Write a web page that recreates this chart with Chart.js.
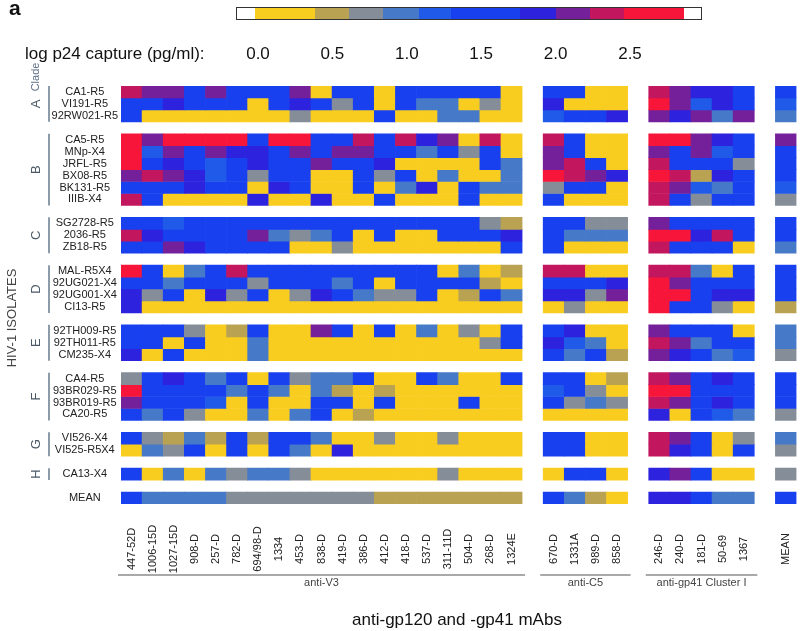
<!DOCTYPE html>
<html>
<head>
<meta charset="utf-8">
<title>log p24 capture heatmap</title>
<script src="https://cdn.jsdelivr.net/npm/chart.js@4.4.1/dist/chart.umd.min.js"></script>
<style>
  html, body { margin: 0; padding: 0; background: #fff; }
  body { font-family: "Liberation Sans", Arial, Helvetica, sans-serif; color: #111; }
  #page { position: relative; width: 800px; height: 631px; overflow: hidden; }
  #heat { position: absolute; left: 0; top: 0; }
  #panel { position: absolute; left: 9px; top: -3px; font-size: 21px; line-height: 21px; font-weight: bold; }
  .seg { position: absolute; top: 8px; height: 11px; }
  #scaleFrame { position: absolute; top: 7px; height: 11px; border: 1px solid #333; }
  .scaleTick { position: absolute; top: 44px; font-size: 17px; line-height: 20px; transform: translateX(-50%); white-space: nowrap; }
  #scaleTitle { position: absolute; left: 25px; top: 44px; font-size: 17px; line-height: 20px; white-space: nowrap; }
</style>
</head>
<body>
<div id="page">
  <canvas id="heat" width="800" height="631"></canvas>
  <div id="panel">a</div>
  <div id="scaleTitle">log p24 capture (pg/ml):</div>
  <div id="scaleBar"></div>
</div>
<script>
// mAbs (columns)
const mAbsV3 = ['447-52D', '1006-15D', '1027-15D', '908-D', '257-D', '782-D', '694/98-D', '1334', '453-D',
  '838-D', '419-D', '386-D', '412-D', '418-D', '537-D', '311-11D', '504-D', '268-D', '1324E'];
const mAbsC5 = ['670-D', '1331A', '989-D', '858-D'];
const mAbsGp41 = ['246-D', '240-D', '181-D', '50-69', '1367'];
const mAbsMean = ['MEAN'];

// isolates (rows) per clade
const isolatesA = ['CA1-R5', 'VI191-R5', '92RW021-R5'];
const isolatesB = ['CA5-R5', 'MNp-X4', 'JRFL-R5', 'BX08-R5', 'BK131-R5', 'IIIB-X4'];
const isolatesC = ['SG2728-R5', '2036-R5', 'ZB18-R5'];
const isolatesD = ['MAL-R5X4', '92UG021-X4', '92UG001-X4', 'CI13-R5'];
const isolatesE = ['92TH009-R5', '92TH011-R5', 'CM235-X4'];
const isolatesF = ['CA4-R5', '93BR029-R5', '93BR019-R5', 'CA20-R5'];
const isolatesG = ['VI526-X4', 'VI525-R5X4'];
const isolatesH = ['CA13-X4'];
const isolatesMean = ['MEAN'];

// log p24 capture (pg/ml), one row per isolate: 19 anti-V3 | 4 anti-C5 | 5 anti-gp41 | MEAN
const valuesA = [
  [2.35,2.1,2.1,1.5,2.1,1.5,1.5,1.5,2.1,0.2,1.5,1.5,0.2,1.5,1.5,1.5,1.5,1.5,0.2, 1.5,1.5,0.2,0.2, 2.35,2.1,1.9,1.9,1.5, 1.5],
  [1.5,1.5,1.9,1.5,1.5,1.5,0.2,1.5,1.9,1.5,0.7,1.5,0.2,1.5,0.95,0.95,0.2,0.7,0.2, 1.9,0.2,0.2,0.2, 2.6,2.1,1.2,1.9,1.5, 1.2],
  [1.5,0.2,0.2,0.2,0.2,0.2,0.2,0.2,0.7,0.2,0.2,0.2,1.5,0.2,0.2,0.95,0.95,0.2,0.2, 1.2,1.5,1.5,1.9, 2.1,1.9,2.1,0.95,2.1, 0.95]
];
const valuesB = [
  [2.6,2.1,2.6,2.6,2.6,2.6,1.5,2.6,2.6,1.5,1.5,2.35,1.5,2.35,1.9,2.1,0.2,2.35,0.2, 2.35,1.5,0.2,0.2, 2.6,2.6,2.1,1.9,1.5, 2.1],
  [2.6,1.2,2.1,1.5,2.1,1.9,1.9,1.5,2.1,1.5,2.1,2.1,1.5,1.5,0.95,1.5,0.7,1.5,0.2, 2.1,1.5,0.2,0.2, 2.1,1.5,2.1,1.2,1.5, 1.5],
  [2.6,1.5,1.9,1.5,1.2,1.5,1.9,1.5,1.5,2.1,1.5,1.5,1.9,0.2,0.2,0.2,0.2,1.5,0.95, 2.1,2.35,1.5,0.2, 2.35,1.5,1.5,1.5,0.7, 1.5],
  [2.1,2.35,2.1,1.9,1.2,1.5,0.7,1.5,1.5,0.2,0.2,1.5,0.7,1.5,0.2,0.95,0.2,0.2,0.95, 2.6,2.35,2.1,1.9, 2.6,2.35,0.5,1.9,1.5, 1.5],
  [1.5,1.5,1.5,1.9,1.5,1.5,0.2,1.9,1.5,0.2,0.2,1.5,0.2,0.95,1.9,0.2,1.5,0.95,0.95, 0.7,1.5,1.5,0.2, 2.35,2.1,1.2,0.95,1.5, 1.2],
  [2.35,1.5,0.2,0.2,0.2,0.2,1.9,0.2,0.2,1.9,0.2,0.2,1.5,0.2,0.2,0.2,1.5,0.2,0.2, 1.5,0.2,0.2,0.2, 2.35,1.5,0.7,1.5,1.5, 0.7]
];
const valuesC = [
  [1.5,1.5,1.2,1.5,1.5,1.5,1.5,1.5,1.5,1.5,1.5,1.5,1.5,1.5,1.5,1.5,1.5,0.7,0.5, 1.5,1.5,0.7,0.7, 2.1,1.5,1.5,1.5,1.5, 1.5],
  [2.35,1.9,1.5,1.5,1.5,1.5,2.1,0.95,0.7,0.95,1.5,0.2,1.5,0.2,0.2,1.5,1.5,1.5,1.9, 1.5,0.95,0.95,0.95, 2.6,2.6,1.9,2.35,1.5, 1.5],
  [1.5,1.5,2.1,1.9,1.5,1.5,1.5,1.5,0.2,0.2,0.7,0.2,0.2,0.2,0.2,0.2,0.2,0.2,1.5, 1.5,0.2,0.2,0.2, 2.35,1.5,1.5,1.5,0.2, 0.95]
];
const valuesD = [
  [2.6,1.5,0.2,0.95,1.5,2.35,1.5,1.5,1.5,1.5,1.5,1.5,1.5,1.5,1.5,0.2,0.95,0.2,0.5, 2.35,2.35,0.2,0.2, 2.35,2.35,0.95,0.2,1.5, 1.5],
  [1.5,1.5,0.95,1.5,1.5,1.5,0.7,1.5,1.5,1.5,0.95,1.5,0.2,1.5,1.5,1.5,1.5,0.5,0.2, 1.5,1.5,1.5,1.9, 2.6,2.1,1.5,1.5,1.5, 1.5],
  [1.9,0.7,1.5,0.2,1.9,0.7,1.5,0.2,0.7,1.9,1.5,0.95,0.7,0.7,1.5,0.2,0.5,1.5,0.95, 1.9,1.9,0.7,2.1, 2.6,2.6,1.5,1.9,1.9, 1.5],
  [1.9,0.2,0.2,0.2,0.2,0.2,0.2,0.2,0.2,0.2,0.2,0.2,0.2,0.2,0.2,0.2,0.2,0.2,0.2, 0.2,0.7,0.2,0.2, 2.6,1.5,1.5,0.7,0.2, 0.5]
];
const valuesE = [
  [1.5,1.5,1.5,0.7,0.2,0.5,1.5,0.2,0.2,2.1,1.5,0.2,1.5,0.2,0.95,0.2,0.7,0.2,1.5, 1.5,1.9,0.2,0.2, 2.1,1.5,1.5,1.5,0.2, 0.95],
  [1.5,1.5,0.2,1.5,0.2,0.2,0.95,0.2,0.2,0.2,0.2,0.2,0.2,0.2,0.2,0.2,0.2,0.7,1.5, 1.9,1.2,0.95,0.2, 2.35,2.1,0.95,1.5,1.5, 0.95],
  [1.9,0.2,1.5,0.2,0.2,0.2,0.95,0.2,0.2,0.2,0.2,0.2,0.2,0.2,0.2,0.2,0.2,0.2,0.2, 1.5,0.95,1.5,0.5, 2.1,1.9,1.5,0.95,1.2, 0.7]
];
const valuesF = [
  [0.7,1.5,1.9,1.5,0.95,1.5,0.2,1.5,0.7,0.95,0.95,1.5,0.2,0.2,1.5,0.95,0.2,0.2,1.5, 1.5,1.5,0.2,0.5, 2.35,2.1,1.5,1.9,1.5, 1.5],
  [2.6,1.5,1.5,1.5,1.5,0.95,1.5,0.95,0.2,0.95,0.5,0.2,0.5,0.2,0.2,0.2,0.2,0.2,0.2, 1.2,1.5,0.7,0.2, 2.6,2.6,1.5,1.5,1.5, 1.5],
  [2.1,1.5,1.5,1.5,1.2,0.2,1.5,0.2,0.2,1.5,1.5,0.2,1.5,0.2,0.2,0.2,1.5,0.2,0.2, 1.5,0.7,0.95,0.7, 2.35,2.1,1.5,1.9,1.5, 1.5],
  [1.5,0.95,1.5,0.7,0.2,0.2,0.95,0.2,0.95,1.5,0.2,0.5,0.2,0.2,0.2,0.2,0.2,0.2,0.2, 0.2,0.2,0.2,0.2, 1.9,0.2,1.5,1.2,0.95, 0.7]
];
const valuesG = [
  [1.5,0.7,0.5,0.95,0.5,1.5,0.5,1.5,1.5,0.95,0.2,0.2,0.7,0.2,0.2,0.7,0.2,0.2,0.2, 1.5,1.5,0.2,0.2, 2.35,2.1,1.5,0.2,0.7, 0.95],
  [0.2,0.95,0.7,1.5,0.2,1.5,0.2,1.5,0.95,0.2,1.9,0.2,0.2,0.2,0.2,0.2,0.2,0.2,0.2, 1.5,1.5,0.2,0.2, 2.35,1.9,1.5,0.2,1.5, 0.7]
];
const valuesH = [
  [1.5,0.2,0.95,0.2,0.95,0.7,0.95,0.95,0.7,0.2,0.2,0.2,0.2,0.2,0.2,0.7,0.2,0.2,0.2, 0.2,1.5,1.5,0.2, 1.9,2.1,1.5,0.2,0.2, 0.7]
];
const valuesMean = [
  [1.5,0.95,0.95,0.95,0.95,0.7,0.7,0.7,0.7,0.7,0.7,0.7,0.5,0.5,0.5,0.5,0.5,0.5,0.5, 1.5,0.95,0.5,0.2, 1.9,1.9,1.5,0.95,0.95, 1.5]
];

// colour key: bin edges in log p24 units, and one colour per bin
const binEdges = [0.38, 0.61, 0.84, 1.08, 1.30, 1.76, 2.0, 2.23, 2.46];
const binColors = ['#f9cd1f', '#b9a352', '#858e98', '#4679c8', '#1f5ae8', '#1840ef', '#2d22de', '#74209a', '#c2165e', '#f7163a'];
const keyRange = [-0.14, -0.02, 2.86, 2.98];   // white ends of the key
const keyTicks = [0.0, 0.5, 1.0, 1.5, 2.0, 2.5];

const colorFor = v => {
  let i = binEdges.findIndex(e => v < e);
  return binColors[i < 0 ? binEdges.length : i];
};

// colour key above the chart
(function drawKey() {
  const bar = document.getElementById('scaleBar');
  const px = v => 258 + v * 148.8;
  const stops = [keyRange[0], keyRange[1], ...binEdges, keyRange[2], keyRange[3]];
  const fills = ['#fff', ...binColors, '#fff'];
  fills.forEach((c, i) => {
    const d = document.createElement('div');
    d.className = 'seg';
    d.style.left = px(stops[i]) + 'px';
    d.style.width = (px(stops[i + 1]) - px(stops[i]) + 0.6) + 'px';
    d.style.background = c;
    bar.appendChild(d);
  });
  const frame = document.createElement('div');
  frame.id = 'scaleFrame';
  frame.style.left = (px(stops[0]) - 1) + 'px';
  frame.style.width = (px(stops[stops.length - 1]) - px(stops[0])) + 'px';
  bar.appendChild(frame);
  keyTicks.forEach(t => {
    const s = document.createElement('div');
    s.className = 'scaleTick';
    s.style.left = px(t) + 'px';
    s.textContent = t.toFixed(1);
    bar.appendChild(s);
  });
})();

// columns: mAb groups separated by one empty slot
const colGroups = [
  { label: 'anti-V3', mAbs: mAbsV3 },
  { label: 'anti-C5', mAbs: mAbsC5 },
  { label: 'anti-gp41 Cluster I', mAbs: mAbsGp41 },
  { label: '', mAbs: mAbsMean }
];
const columns = [];
const colSource = [];   // category index -> value index (null = gap)
colGroups.forEach((g, gi) => {
  if (gi > 0) { columns.push(''); colSource.push(null); }
  g.from = columns.length;
  g.mAbs.forEach(m => { colSource.push(colSource.filter(c => c !== null).length); columns.push(m); });
  g.to = columns.length - 1;
});

// rows: clades separated by one empty row
const rowGroups = [
  { clade: 'A', names: isolatesA, values: valuesA },
  { clade: 'B', names: isolatesB, values: valuesB },
  { clade: 'C', names: isolatesC, values: valuesC },
  { clade: 'D', names: isolatesD, values: valuesD },
  { clade: 'E', names: isolatesE, values: valuesE },
  { clade: 'F', names: isolatesF, values: valuesF },
  { clade: 'G', names: isolatesG, values: valuesG },
  { clade: 'H', names: isolatesH, values: valuesH },
  { clade: '', names: isolatesMean, values: valuesMean }
];
const rowList = [];
let pos = 0;
rowGroups.forEach((g, gi) => {
  if (gi > 0) pos += 1;
  g.start = pos;
  g.names.forEach((n, i) => { rowList.push({ name: n, pos: pos, values: g.values[i] }); pos += 1; });
  g.end = pos;
});
const totalRows = pos;

const datasets = rowList.map(r => ({
  label: r.name,
  data: colSource.map(c => c === null ? null : [r.pos, r.pos + 1]),
  backgroundColor: colSource.map(c => c === null ? 'rgba(0,0,0,0)' : colorFor(r.values[c]))
}));

const FONT = '"Liberation Sans", Arial, sans-serif';
Chart.defaults.font.family = FONT;

const decorations = {
  id: 'decorations',
  afterDraw(chart) {
    const { ctx, scales: { x, y } } = chart;
    const half = (x.getPixelForValue(1) - x.getPixelForValue(0)) / 2;
    ctx.save();

    // mAb names, vertical
    ctx.font = '11px ' + FONT;
    ctx.fillStyle = '#222';
    ctx.textAlign = 'center';
    ctx.textBaseline = 'middle';
    columns.forEach((label, i) => {
      if (!label) return;
      ctx.save();
      ctx.translate(x.getPixelForValue(i), 549);
      ctx.rotate(-Math.PI / 2);
      ctx.fillText(label, 0, 0);
      ctx.restore();
    });

    // group rules and names under the mAb names
    colGroups.forEach(g => {
      if (!g.label) return;
      const x0 = x.getPixelForValue(g.from) - half - 3;
      const x1 = x.getPixelForValue(g.to) + half + 3;
      ctx.strokeStyle = '#8c8c8c';
      ctx.lineWidth = 1.5;
      ctx.beginPath();
      ctx.moveTo(x0, 575);
      ctx.lineTo(x1, 575);
      ctx.stroke();
      ctx.fillStyle = '#444';
      ctx.fillText(g.label, (x0 + x1) / 2, 583);
    });

    // x title
    ctx.font = '17px ' + FONT;
    ctx.fillStyle = '#111';
    ctx.fillText('anti-gp120 and -gp41 mAbs', 457, 620);

    // clade brackets and letters
    ctx.strokeStyle = '#4f667c';
    ctx.lineWidth = 1.3;
    rowGroups.forEach(g => {
      if (!g.clade) return;
      const top = y.getPixelForValue(g.start);
      const bottom = y.getPixelForValue(g.end);
      ctx.beginPath();
      ctx.moveTo(49, top);
      ctx.lineTo(49, bottom);
      ctx.stroke();
      ctx.save();
      ctx.translate(36, (top + bottom) / 2);
      ctx.rotate(-Math.PI / 2);
      ctx.font = '13px ' + FONT;
      ctx.fillStyle = '#4a5866';
      ctx.fillText(g.clade, 0, 0);
      ctx.restore();
    });

    // "Clade" header and y title
    ctx.save();
    ctx.translate(36, 77);
    ctx.rotate(-Math.PI / 2);
    ctx.font = '11px ' + FONT;
    ctx.fillStyle = '#5d7088';
    ctx.fillText('Clade', 0, 0);
    ctx.restore();

    ctx.save();
    ctx.translate(12, 318);
    ctx.rotate(-Math.PI / 2);
    ctx.font = '13px ' + FONT;
    ctx.fillStyle = '#444';
    ctx.fillText('HIV-1 ISOLATES', 0, 0);
    ctx.restore();

    ctx.restore();
  }
};

new Chart(document.getElementById('heat'), {
  type: 'bar',
  data: { labels: columns, datasets: datasets },
  options: {
    responsive: false,
    animation: false,
    events: [],
    layout: { padding: { top: 86, bottom: 127, left: 48, right: 3.5 } },
    plugins: { legend: { display: false }, tooltip: { enabled: false } },
    datasets: {
      bar: { grouped: false, barPercentage: 1, categoryPercentage: 1, borderWidth: 0, borderSkipped: false }
    },
    scales: {
      x: { display: false },
      y: {
        type: 'linear',
        min: 0,
        max: totalRows,
        reverse: true,
        grid: { display: false, drawTicks: false },
        border: { display: false },
        afterFit: s => { s.width = 73; },
        afterBuildTicks: s => { s.ticks = rowList.map(r => ({ value: r.pos + 0.5 })); },
        ticks: {
          autoSkip: false,
          padding: 3,
          crossAlign: 'center',
          color: '#222',
          font: { size: 11 },
          callback: v => {
            const r = rowList.find(rr => Math.abs(rr.pos + 0.5 - v) < 1e-6);
            return r ? r.name : '';
          }
        }
      }
    }
  },
  plugins: [decorations]
});
</script>
</body>
</html>
